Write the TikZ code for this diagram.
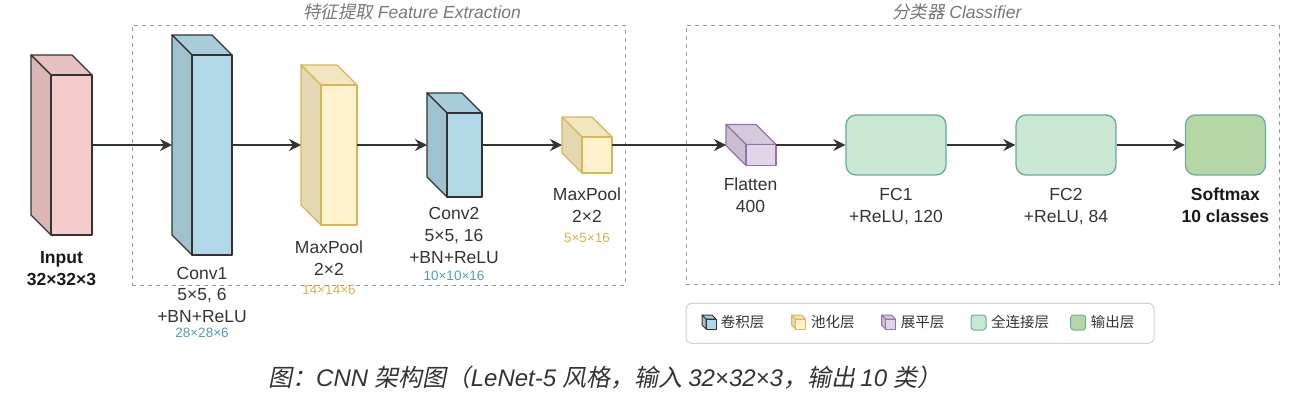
\documentclass[tikz,border=0pt]{standalone}
\usepackage{fontspec}
\setmainfont{Liberation Sans}
\newfontfamily\zh{Noto Sans CJK SC}
\newfontfamily\zhit[FakeSlant=0.2]{Noto Sans CJK SC}
\usetikzlibrary{arrows.meta,calc}

\definecolor{arrc}{HTML}{333333}
\definecolor{txt}{HTML}{333333}
\definecolor{txtb}{HTML}{1A1A1A}
\definecolor{ttl}{HTML}{777777}
\definecolor{grp}{HTML}{9A9A9A}
\definecolor{legs}{HTML}{D0D0D0}
\definecolor{dark}{HTML}{333333}
\definecolor{inF}{HTML}{F4CCCC}\definecolor{inT}{HTML}{E8C1C1}\definecolor{inS}{HTML}{DCB5B5}
\definecolor{cvF}{HTML}{B1D8E6}\definecolor{cvT}{HTML}{A8CDDA}\definecolor{cvS}{HTML}{9FC2CF}
\definecolor{plF}{HTML}{FFF2CC}\definecolor{plT}{HTML}{F2E6C1}\definecolor{plS}{HTML}{E5D7B3}\definecolor{plD}{HTML}{D6B656}
\definecolor{flF}{HTML}{E1D5E7}\definecolor{flT}{HTML}{D5CADB}\definecolor{flS}{HTML}{C9BFCF}\definecolor{flD}{HTML}{9673A6}
\definecolor{fcf}{HTML}{C9E7D3}\definecolor{fcs}{HTML}{67AB9F}
\definecolor{outf}{HTML}{B5D6A5}\definecolor{outs}{HTML}{6AAE98}
\definecolor{dimconv}{HTML}{4E9EB8}
\definecolor{dimpool}{HTML}{D4B24C}

\def\cdepth{20}
\def\cubelw{1.3pt}
% #1 name, #2 left, #3 top (front face), #4 w, #5 h, #6 front, #7 top, #8 side, #9 stroke
\newcommand{\cuboid}[9]{%
  \filldraw[fill=#7,draw=#9,cubeline] (#2,#3) -- (#2-\cdepth,#3-\cdepth) -- (#2+#4-\cdepth,#3-\cdepth) -- (#2+#4,#3) -- cycle;
  \filldraw[fill=#8,draw=#9,cubeline] (#2,#3) -- (#2-\cdepth,#3-\cdepth) -- (#2-\cdepth,#3+#5-\cdepth) -- (#2,#3+#5) -- cycle;
  \node[cubeline,fill=#6,draw=#9,inner sep=0pt,outer sep=0pt,minimum width=#4pt,minimum height=#5pt,anchor=north west] (#1) at (#2,#3) {};
}

\tikzset{
  cubeline/.style={line width=\cubelw, line join=round},
  arr/.style={draw=arrc, line width=1.6pt, -{Stealth[length=12pt 0,width=12pt 0,inset=4pt 0]}},
  groupbox/.style={draw=grp, dash pattern=on 4pt off 4pt, line width=1pt, inner sep=0pt, outer sep=0pt},
  grouptitle/.style={text=ttl, font=\fontsize{17.5}{20}\selectfont\itshape, inner sep=0pt},
  lbl/.style={text=txt, font=\fontsize{17.5}{21.8}\selectfont, align=center, inner sep=0pt, anchor=north},
  blbl/.style={lbl, font=\fontsize{17.5}{21.8}\selectfont\bfseries, text=txtb},
  dimc/.style={text=dimconv, font=\fontsize{13.5}{16}\selectfont, inner sep=0pt},
  dimp/.style={text=dimpool, font=\fontsize{13.5}{16}\selectfont, inner sep=0pt},
  fcbox/.style={draw=fcs, fill=fcf, line width=1.3pt, rounded corners=10pt, minimum width=100pt, minimum height=60pt, inner sep=0pt},
  outbox/.style={fcbox, draw=outs, fill=outf, minimum width=80pt},
  legtext/.style={text=txt, font=\fontsize{14.5}{16}\selectfont\zh, anchor=west, inner sep=0pt},
  legsq/.style={line width=1pt, rounded corners=3pt, minimum width=15pt, minimum height=15pt, inner sep=0pt},
  caption/.style={text=txt, font=\fontsize{24}{26}\selectfont\itshape, inner sep=0pt},
}

\begin{document}
\begin{tikzpicture}[x=1pt,y=-1pt]
\useasboundingbox (0,0) rectangle (1289,402);

% group boxes
\node[groupbox, minimum width=493pt, minimum height=260pt] (feat) at (378.5,155) {};
\node[groupbox, minimum width=593pt, minimum height=259pt] (cls) at (982.5,154.5) {};
\node[grouptitle] (feat-title) at (412,12) {{\zhit\upshape 特征提取} Feature Extraction};
\node[grouptitle] (cls-title) at (956.7,12) {{\zhit\upshape 分类器} Classifier};

% cuboids
\cuboid{input}{51}{75}{41}{160}{inF}{inT}{inS}{dark}
\cuboid{conv1}{192}{55}{40}{200}{cvF}{cvT}{cvS}{dark}
\cuboid{mp1}{321}{85}{36}{140}{plF}{plT}{plS}{plD}
\cuboid{conv2}{447}{113}{35}{84}{cvF}{cvT}{cvS}{dark}
\cuboid{mp2}{582}{137}{30}{36}{plF}{plT}{plS}{plD}
\cuboid{flat}{746}{144.5}{30}{21}{flF}{flT}{flS}{flD}

\foreach \n in {input,conv1,mp1,conv2,mp2,flat}{
  \coordinate (\n-in) at ([shift={(-20pt,10pt)}]\n.west);
  \coordinate (\n-out) at ([yshift=10pt]\n.east);
}

% fully connected
\node[fcbox] (fc1) at (896,145) {};
\node[fcbox] (fc2) at (1066,145) {};
\node[outbox] (soft) at (1225.4,145) {};

% connectors
\draw[arr] (input-out) -- (conv1-in);
\draw[arr] (conv1-out) -- (mp1-in);
\draw[arr] (mp1-out) -- (conv2-in);
\draw[arr] (conv2-out) -- (mp2-in);
\draw[arr] (mp2-out) -- (flat-in);
\draw[arr] (flat-out) -- (flat-out -| fc1.west);
\draw[arr] (fc1.east) -- (fc2.west);
\draw[arr] (fc2.east) -- (soft.west);

% labels
\node[blbl] (input-lbl) at (61.5,251.7) {Input\\32×32×3};
\node[lbl] (conv1-lbl) at (202,266.7) {Conv1\\5×5, 6\\+BN+ReLU};
\node[dimc] (conv1-dim) at (202,333) {28×28×6};
\node[lbl] (mp1-lbl) at (329,240.4) {MaxPool\\2×2};
\node[dimp] (mp1-dim) at (329,290) {14×14×6};
\node[lbl] (conv2-lbl) at (454,207) {Conv2\\5×5, 16\\+BN+ReLU};
\node[dimc] (conv2-dim) at (454,276) {10×10×16};
\node[lbl] (mp2-lbl) at (587,187.7) {MaxPool\\2×2};
\node[dimp] (mp2-dim) at (587,237.7) {5×5×16};
\node[lbl] (flat-lbl) at (750.5,178) {Flatten\\400};
\node[lbl] (fc1-lbl) at (896,188) {FC1\\+ReLU, 120};
\node[lbl] (fc2-lbl) at (1066,188) {FC2\\+ReLU, 84};
\node[blbl] (out-lbl) at (1225.4,188) {Softmax\\10 classes};

% legend
\node[draw=legs, fill=white, line width=1pt, rounded corners=6pt, minimum width=468pt, minimum height=40pt, inner sep=0pt] (legend) at (920,323.3) {};
\def\cdepth{4}
\def\cubelw{1pt}
\cuboid{lg-conv}{706}{319}{10}{10}{cvF}{cvT}{cvS}{dark}
\cuboid{lg-pool}{795.5}{319}{10}{10}{plF}{plT}{plS}{plD}
\cuboid{lg-flat}{885.5}{319}{10}{10}{flF}{flT}{flS}{flD}
\node[legsq, draw=fcs, fill=fcf] (lg-fc) at (978.5,322.5) {};
\node[legsq, draw=outs, fill=outf] (lg-out) at (1078.2,322.5) {};
\node[legtext] (lt-conv) at (720.7,322.3) {卷积层};
\node[legtext] (lt-pool) at (811,322.3) {池化层};
\node[legtext] (lt-flat) at (900.7,322.3) {展平层};
\node[legtext] (lt-fc) at (991,322.3) {全连接层};
\node[legtext] (lt-out) at (1090.7,322.3) {输出层};

% caption
\node[caption] (cap) at (605,378) {{\zhit\upshape 图：}CNN {\zhit\upshape 架构图（}LeNet-5 {\zhit\upshape 风格，输入 }32×32×3{\zhit\upshape ，输出 }10 {\zhit\upshape 类）}};
\end{tikzpicture}
\end{document}
